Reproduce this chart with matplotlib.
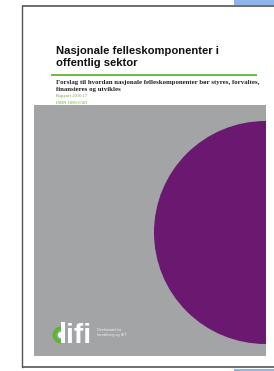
import matplotlib
matplotlib.use('Agg')
import matplotlib.pyplot as plt
from matplotlib.patches import Rectangle, Circle, Wedge

# Texts on the report cover
TITLE_LINES = ['Nasjonale felleskomponenter i', 'offentlig sektor']
SUBTITLE_LINES = ['Forslag til hvordan nasjonale felleskomponenter bør styres, forvaltes,',
                  'finansieres og utvikles']
REPORT_NO = 'Rapport 2010:17'
ISBN = 'ISBN 1890-6583'
LOGO_LETTERS = 'ifi'   # the "d" is drawn as shapes
LOGO_TEXT = ['Direktoratet for', 'forvaltning og IKT']

GRAY = '#a3a4a6'
PURPLE = '#6b1870'
GREEN = '#5db535'
BLUE = '#8fb6ea'
BORDER = '#555555'

W, H = 274, 371
fig = plt.figure(figsize=(W / 100, H / 100), dpi=100)
ax = fig.add_axes([0, 0, 1, 1])
ax.set_xlim(0, W)
ax.set_ylim(H, 0)
ax.axis('off')

def px(p):
    return p * 72 / 100

# page frame and the blue bits of the neighbouring window
ax.add_patch(Rectangle((234, 0), 40, 5, color=BLUE, lw=0))
ax.add_patch(Rectangle((234, 368.5), 40, 3, color=BLUE, lw=0))
ax.plot([21.5, 274], [5.5, 5.5], color=BORDER, lw=1.2, solid_capstyle='butt')
ax.plot([21.5, 21.5], [5.5, 367], color=BORDER, lw=1.0)
ax.plot([21.5, 274], [367, 367], color=BORDER, lw=1.2, solid_capstyle='butt')

# title
for i, line in enumerate(TITLE_LINES):
    ax.text(56.5, 54 + i * 12.5, line, fontsize=px(11.2), fontweight='bold',
            family='Liberation Sans', color='#111111', va='baseline', ha='left')

ax.plot([51, 257], [75, 75], color=GREEN, lw=1.3, solid_capstyle='butt')

for i, line in enumerate(SUBTITLE_LINES):
    ax.text(56.5, 84 + i * 7.2, line, fontsize=px(6.9), fontweight='bold',
            family='Liberation Serif', color='#222222', va='baseline', ha='left')
ax.text(56.5, 97, REPORT_NO, fontsize=px(4.6), family='Liberation Serif',
        color='#7a9a5a', va='baseline', ha='left')
ax.text(56.5, 103.5, ISBN, fontsize=px(4.6), family='Liberation Serif',
        color=GREEN, va='baseline', ha='left')

# gray block with purple half circle
block = Rectangle((34, 105), 232, 251, color=GRAY, lw=0)
ax.add_patch(block)
disc = Circle((265.5, 232.5), 111.5, color=PURPLE, lw=0)
ax.add_patch(disc)
disc.set_clip_path(block)

# difi logo: green bowl and white stem of the d, then "ifi"
ax.add_patch(Wedge((61, 335), 8.5, 90, 270, width=4.0, color=GREEN, lw=0))
ax.add_patch(Wedge((61, 335), 3.0, 90, 270, color='white', lw=0))
ax.add_patch(Rectangle((61, 322), 3.8, 21, color='white', lw=0))
ax.text(65.5, 343, LOGO_LETTERS, fontsize=px(28), fontweight='bold',
        family='Liberation Sans', color='white', va='baseline', ha='left')
for i, line in enumerate(LOGO_TEXT):
    ax.text(97, 331 + i * 5.4, line, fontsize=px(3.7), family='Liberation Sans',
            color='#f2f2f2', va='baseline', ha='left')

fig.savefig('out.png', dpi=100, facecolor='white')
